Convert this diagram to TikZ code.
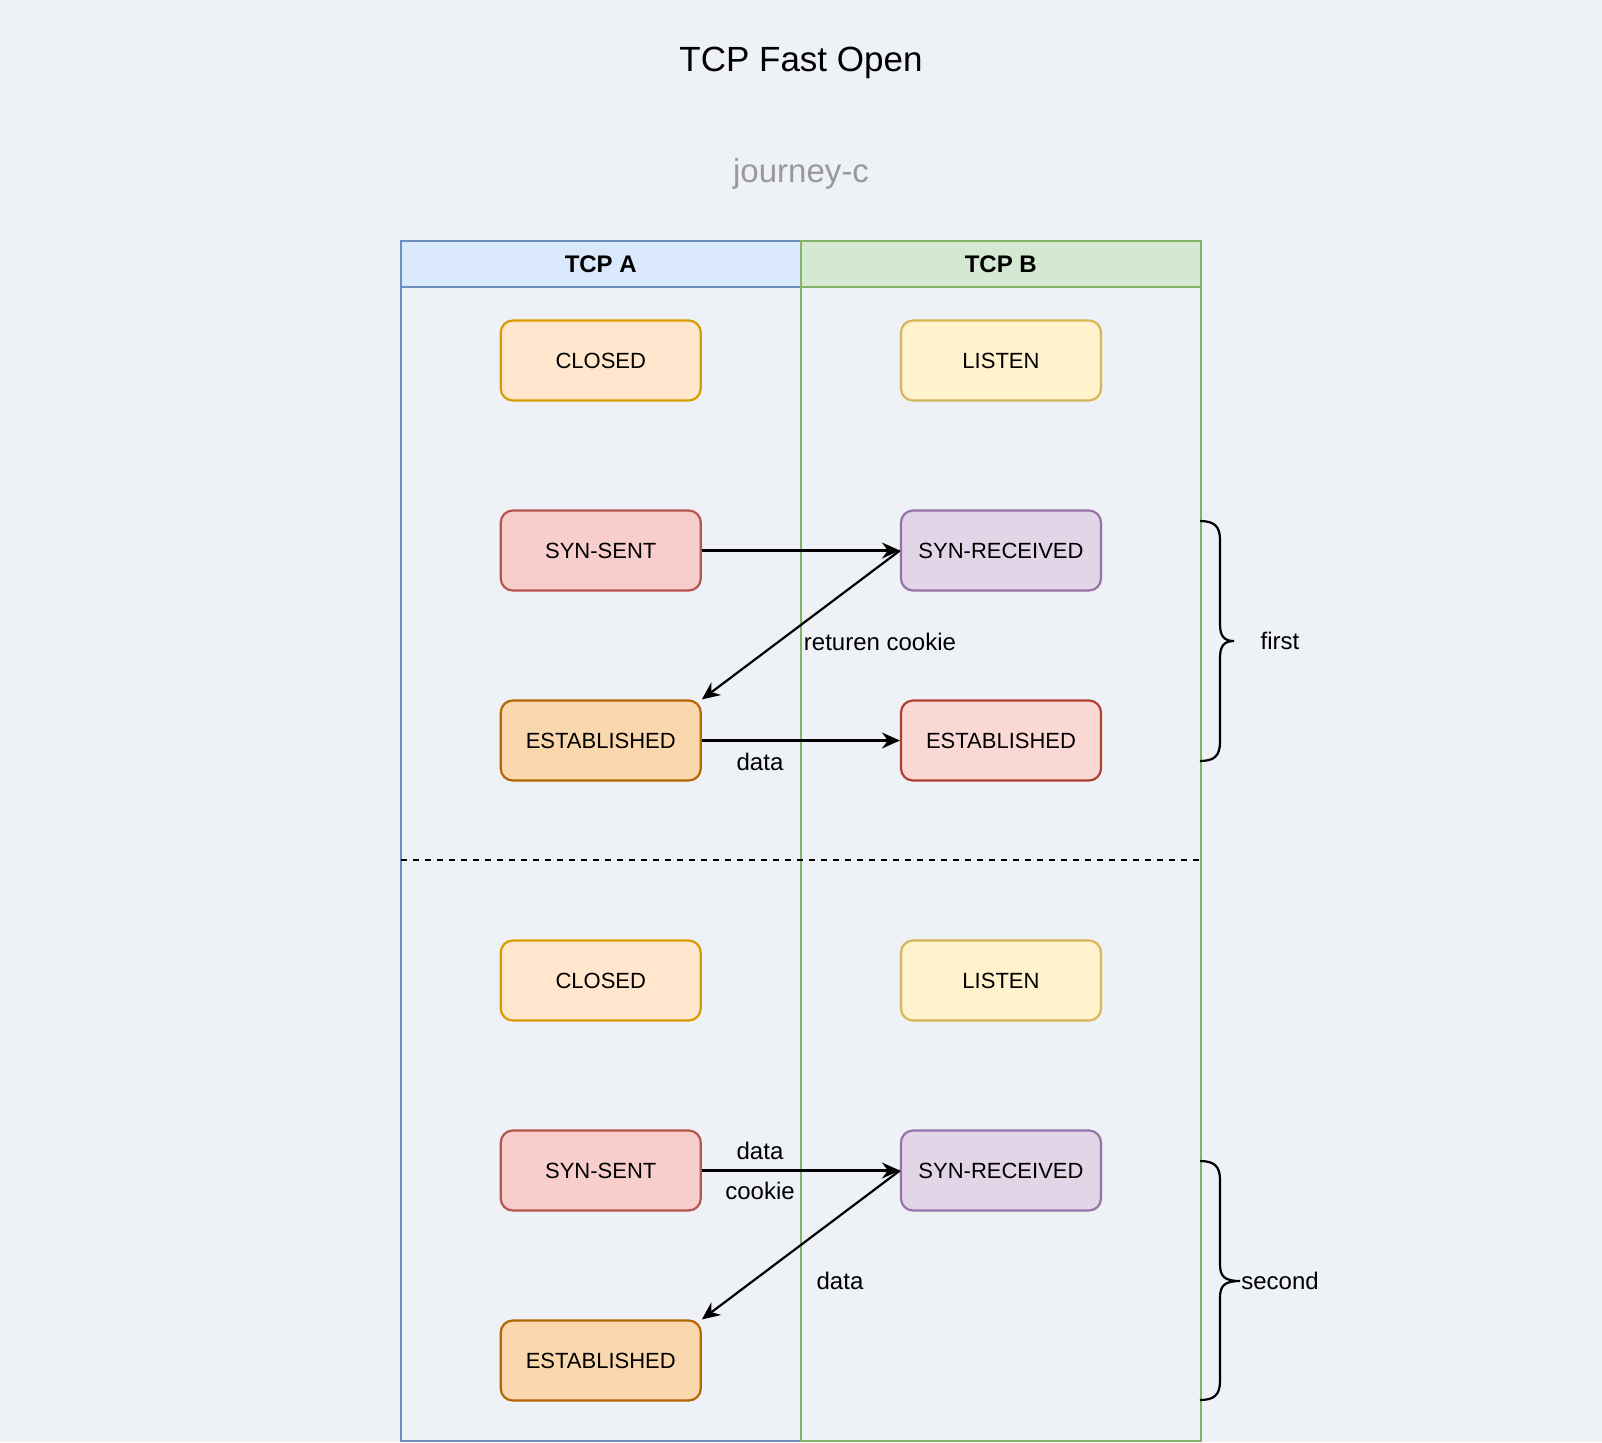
\documentclass[tikz,border=0pt]{standalone}
\usepackage{fontspec}
\setmainfont{Liberation Sans}
\usetikzlibrary{arrows.meta}
\definecolor{bg}{HTML}{EEF1F5}
\definecolor{laneAf}{HTML}{DAE8FC}
\definecolor{laneAs}{HTML}{6C8EBF}
\definecolor{laneBf}{HTML}{D5E8D4}
\definecolor{laneBs}{HTML}{82B366}
\definecolor{closedf}{HTML}{FFE6CC}
\definecolor{closeds}{HTML}{D79B00}
\definecolor{listenf}{HTML}{FFF2CC}
\definecolor{listens}{HTML}{D6B656}
\definecolor{sentf}{HTML}{F8CECC}
\definecolor{sents}{HTML}{B85450}
\definecolor{recvf}{HTML}{E1D5E7}
\definecolor{recvs}{HTML}{9673A6}
\definecolor{estaf}{HTML}{FAD7AC}
\definecolor{estas}{HTML}{B46504}
\definecolor{estbf}{HTML}{FAD9D5}
\definecolor{estbs}{HTML}{AE4132}
\definecolor{subgray}{HTML}{999999}
\begin{document}
\begin{tikzpicture}[x=0.5pt,y=-0.5pt,
  box/.style={draw, rounded corners=6pt, minimum width=100pt, minimum height=40pt,
    line width=1.1pt, inner sep=0pt, font=\fontsize{11}{13}\selectfont},
  hdr/.style={draw, minimum width=200.25pt, minimum height=23pt, inner sep=0pt,
    line width=1pt, font=\fontsize{12}{14}\selectfont\bfseries},
  lanebody/.style={line width=1pt},
  lbl/.style={inner sep=0pt, font=\fontsize{12}{14}\selectfont},
  arr/.style={line width=1.1pt, -{Stealth[length=9pt,width=8pt,inset=3pt]}},
  bracestyle/.style={line width=1.1pt}]
\useasboundingbox (0,0) rectangle (1602,1442);
\fill[bg] (0,0) rectangle (1602,1442);

% titles
\node[inner sep=0pt, font=\fontsize{17.5}{20}\selectfont] (title) at (801,63) {TCP Fast Open};
\node[inner sep=0pt, text=subgray, font=\fontsize{16.5}{19}\selectfont] (sub) at (801,174) {journey-c};

% lanes
\draw[lanebody, draw=laneAs] (400.5,287) rectangle (801,1440.5);
\node[hdr, fill=laneAf, draw=laneAs] (hA) at (600.75,264) {TCP A};
\draw[lanebody, draw=laneBs] (801,287) rectangle (1200.5,1440.5);
\node[hdr, fill=laneBf, draw=laneBs] (hB) at (1000.75,264) {TCP B};

% separator
\draw[line width=0.9pt, dash pattern=on 3pt off 3pt] (400.5,860) -- (1200.5,860);

% first round
\node[box, fill=closedf, draw=closeds] (closed1) at (600.75,360.5) {CLOSED};
\node[box, fill=listenf, draw=listens] (listen1) at (1001,360.5) {LISTEN};
\node[box, fill=sentf, draw=sents] (sent1) at (600.75,550.5) {SYN-SENT};
\node[box, fill=recvf, draw=recvs] (recv1) at (1001,550.5) {SYN-RECEIVED};
\node[box, fill=estaf, draw=estas] (esta1) at (600.75,740.5) {ESTABLISHED};
\node[box, fill=estbf, draw=estbs] (estb1) at (1001,740.5) {ESTABLISHED};

\draw[arr] (sent1.east) -- (recv1.west);
\draw[arr] (recv1.west) -- (esta1.north east);
\draw[arr] (esta1.east) -- (estb1.west);
\node[lbl] (l1) at (880,641.5) {returen cookie};
\node[lbl] (l2) at (760,762) {data};

% second round
\node[box, fill=closedf, draw=closeds] (closed2) at (600.75,980.5) {CLOSED};
\node[box, fill=listenf, draw=listens] (listen2) at (1001,980.5) {LISTEN};
\node[box, fill=sentf, draw=sents] (sent2) at (600.75,1170.5) {SYN-SENT};
\node[box, fill=recvf, draw=recvs] (recv2) at (1001,1170.5) {SYN-RECEIVED};
\node[box, fill=estaf, draw=estas] (esta2) at (600.75,1360.5) {ESTABLISHED};

\draw[arr] (sent2.east) -- (recv2.west);
\draw[arr] (recv2.west) -- (esta2.north east);
\node[lbl] (l3) at (760,1151) {data};
\node[lbl] (l4) at (760,1191) {cookie};
\node[lbl] (l5) at (840,1281) {data};

% braces
\draw[bracestyle] (1200,521) .. controls (1214,521) and (1220,526) .. (1220,540)
  -- (1220,624) .. controls (1220,636) and (1224,641) .. (1234,641)
  .. controls (1224,641) and (1220,646) .. (1220,658)
  -- (1220,742) .. controls (1220,756) and (1214,761) .. (1200,761);
\node[lbl] (first) at (1280,641) {first};

\draw[bracestyle] (1200,1161) .. controls (1214,1161) and (1220,1166) .. (1220,1180)
  -- (1220,1264) .. controls (1220,1276) and (1224,1281) .. (1240,1281)
  .. controls (1224,1281) and (1220,1286) .. (1220,1298)
  -- (1220,1381) .. controls (1220,1395) and (1214,1400) .. (1200,1400);
\node[lbl] (second) at (1280,1281) {second};
\end{tikzpicture}
\end{document}
